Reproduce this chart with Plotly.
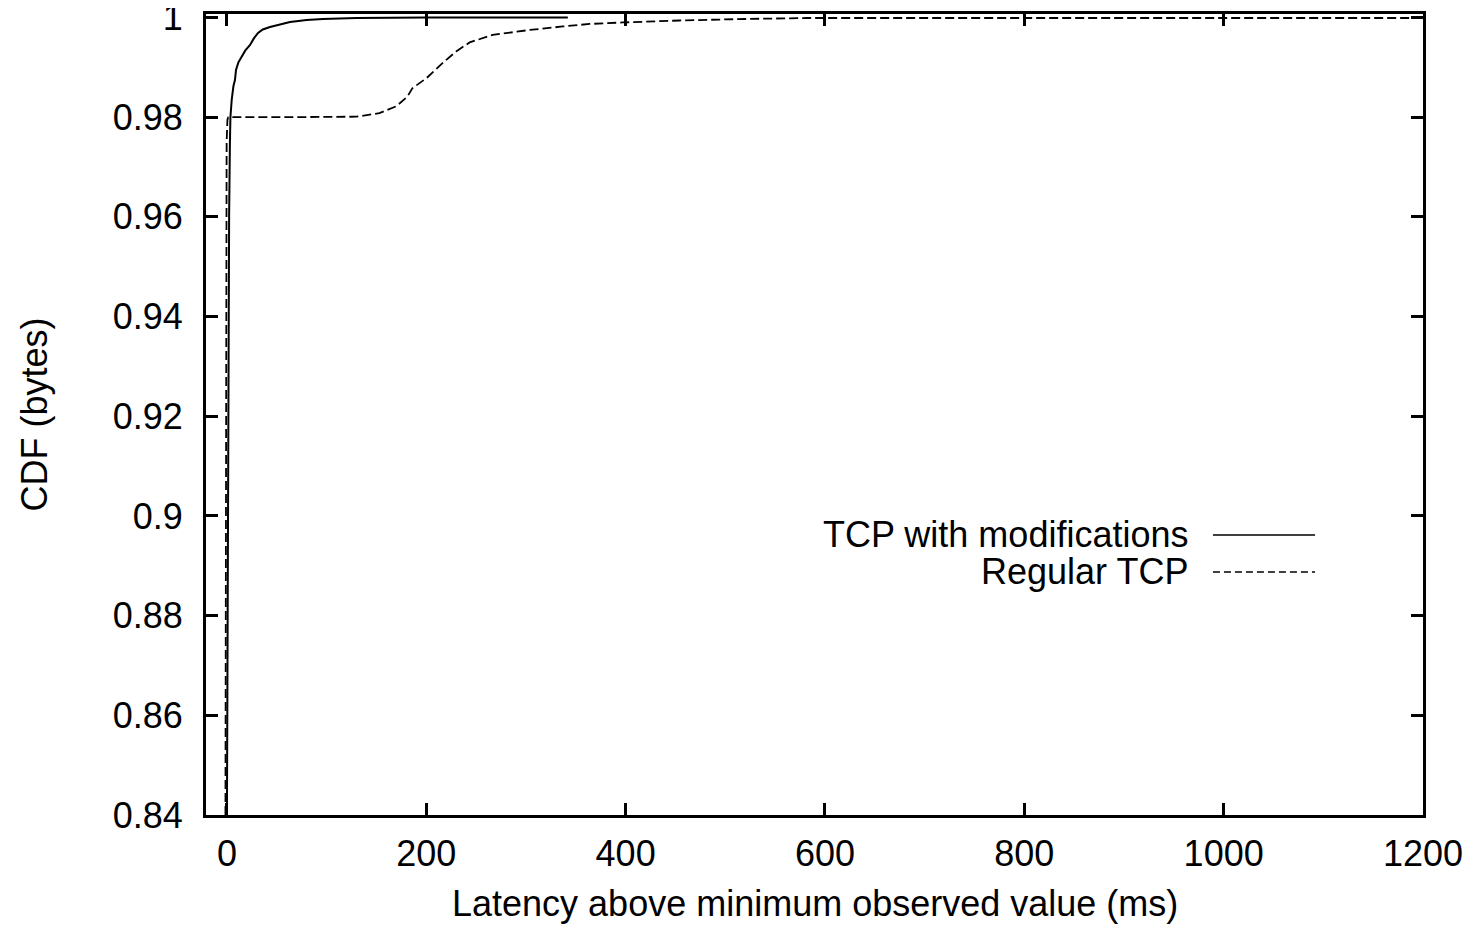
import plotly.graph_objects as go

mod_latency = [0, 0.5, 1.0, 1.5, 2.2, 3.0, 3.5, 4.8, 6.5, 8.1, 9.1, 11.5, 14.8, 18.5,
               23.2, 27, 31.2, 36, 43.2, 52, 63.3, 80, 96.4, 130, 200, 342]
mod_cdf = [0.84, 0.88, 0.92, 0.945, 0.96, 0.975, 0.98, 0.9835, 0.9862, 0.9875, 0.9895,
           0.991, 0.9921, 0.9934, 0.9945, 0.9958, 0.9969, 0.9976, 0.9981, 0.9986,
           0.9991, 0.9995, 0.9997, 0.9999, 1.0, 1.0]

reg_latency = [-1.5, -1.2, -0.8, -0.3, 0.5, 1.4, 60, 130, 153, 170, 181, 186, 200, 216,
               230, 243.5, 266.6, 303.8, 337, 364, 397, 454, 520, 582, 700, 900, 1200]
reg_cdf = [0.84, 0.90, 0.95, 0.975, 0.9795, 0.98, 0.98, 0.9801, 0.9808, 0.9822, 0.9841,
           0.9858, 0.9878, 0.9908, 0.9932, 0.995, 0.9965, 0.9975, 0.9982, 0.9987, 0.999,
           0.9994, 0.9997, 0.9999, 0.9999, 0.9999, 0.9999]

x_ticks = [0, 200, 400, 600, 800, 1000, 1200]
y_ticks = [0.84, 0.86, 0.88, 0.9, 0.92, 0.94, 0.96, 0.98, 1.0]
y_tick_text = ["0.84", "0.86", "0.88", "0.9", "0.92", "0.94", "0.96", "0.98", "1"]

series_names = ["TCP with modifications", "Regular TCP"]

FONT = "Liberation Sans, Arial, sans-serif"
FS = 36

fig = go.Figure()
fig.add_trace(go.Scatter(x=mod_latency, y=mod_cdf, mode="lines", name=series_names[0],
                         line=dict(color="black", width=2)))
fig.add_trace(go.Scatter(x=reg_latency, y=reg_cdf, mode="lines", name=series_names[1],
                         line=dict(color="black", width=1.8, dash="9px,4px")))

axis_common = dict(
    showline=True, linecolor="black", linewidth=3, mirror="ticks",
    ticks="inside", ticklen=12, tickwidth=2.5, tickcolor="black",
    showgrid=False, zeroline=False, ticklabeloverflow="allow", automargin=False,
    tickfont=dict(family=FONT, size=FS, color="black"),
)

fig.update_xaxes(range=[-21, 1200], tickvals=x_ticks, ticklabelstandoff=5, **axis_common)
fig.update_yaxes(range=[0.84, 1.0007], tickvals=y_ticks, ticktext=y_tick_text,
                 ticklabelstandoff=13, **axis_common)

# axis titles
fig.add_annotation(text="Latency above minimum observed value (ms)", xref="paper", yref="paper",
                   x=0.5, y=-0.1099, xanchor="center", yanchor="middle", showarrow=False,
                   font=dict(family=FONT, size=FS, color="black"))
fig.add_annotation(text="CDF (bytes)", xref="paper", yref="paper", textangle=-90,
                   x=-0.1413, y=0.5, xanchor="center", yanchor="middle", showarrow=False,
                   font=dict(family=FONT, size=FS, color="black"))

# gnuplot-style key: text right-aligned, sample line on the right
key_rows = [0.3496, 0.3034]
key_dash = ["solid", "7px,4px"]
for name, yk, dash in zip(series_names, key_rows, key_dash):
    fig.add_annotation(text=name, xref="paper", yref="paper", x=0.8085, y=yk,
                       xanchor="right", yanchor="middle", showarrow=False,
                       font=dict(family=FONT, size=FS, color="black"))
    fig.add_shape(type="line", xref="paper", yref="paper", x0=0.8274, x1=0.9113,
                  y0=yk, y1=yk, line=dict(color="black", width=1.5, dash=dash))

# the page body has an 8px margin, so the figure is 8px smaller each way
fig.update_layout(
    width=1470, height=917,
    margin=dict(l=198, r=55, t=6, b=110),
    paper_bgcolor="white", plot_bgcolor="white",
    showlegend=False,
    font=dict(family=FONT, size=FS, color="black"),
)

fig.write_html("out.html")
